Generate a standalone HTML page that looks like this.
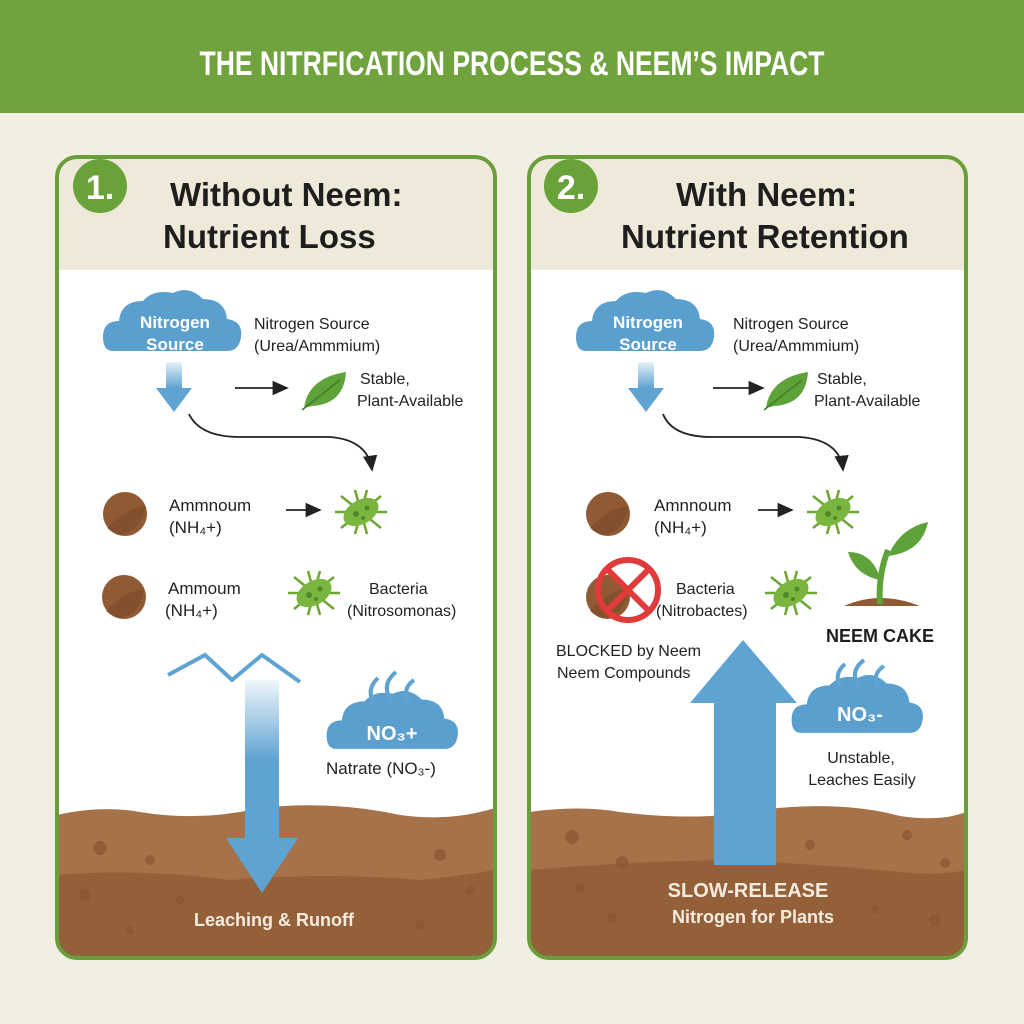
<!DOCTYPE html>
<html><head><meta charset="utf-8"><style>
body{margin:0;background:#f2eee2;}
svg{display:block}
text{font-family:"Liberation Sans",sans-serif;}
</style></head><body>
<svg width="1024" height="1024" viewBox="0 0 1024 1024" xmlns="http://www.w3.org/2000/svg">
<defs>
<linearGradient id="fade" x1="0" y1="0" x2="0" y2="1"><stop offset="0" stop-color="#5fa3d3" stop-opacity="0.1"/><stop offset="0.5" stop-color="#5fa3d3"/></linearGradient>
<linearGradient id="fade2" x1="0" y1="0" x2="0" y2="1"><stop offset="0" stop-color="#5fa3d3" stop-opacity="0.15"/><stop offset="1" stop-color="#5fa3d3"/></linearGradient>
<clipPath id="cl"><rect x="57" y="157" width="438" height="801" rx="20"/></clipPath>
<clipPath id="cr"><rect x="529" y="157" width="437" height="801" rx="20"/></clipPath>
<marker id="ah" markerWidth="10" markerHeight="10" refX="8" refY="5" orient="auto"><path d="M0,1 L9,5 L0,9 Z" fill="#222"/></marker>
<g id="cloud"><path d="M-62,22 Q-72,22 -72,8 Q-72,-8 -56,-8 Q-54,-28 -32,-28 Q-22,-40 -2,-36 Q14,-44 28,-30 Q50,-30 52,-10 Q68,-8 66,8 Q64,22 52,22 Z" fill="#5b9fcf"/></g>
<g id="coin"><circle r="22" fill="#8f5a34"/><path d="M-18,14 Q0,-6 20,-8 Q18,16 -4,21 Q-12,20 -18,14Z" fill="#7a4a29" opacity="0.6"/></g>
<g id="bug"><g stroke="#6aa832" stroke-width="2.5"><line x1="-26" y1="0" x2="26" y2="0"/><line x1="-20" y1="-16" x2="20" y2="16"/><line x1="-20" y1="16" x2="20" y2="-16"/><line x1="-6" y1="-22" x2="6" y2="22"/><line x1="6" y1="-22" x2="-6" y2="22"/></g><ellipse rx="19" ry="12" transform="rotate(-30)" fill="#7ab540"/><circle cx="-5" cy="2" r="3" fill="#4f8a27"/><circle cx="6" cy="-4" r="2.5" fill="#4f8a27"/><circle cx="2" cy="6" r="2" fill="#4f8a27"/></g>
<g id="leaf"><path d="M-22,18 Q-18,-12 20,-18 Q18,14 -14,16 Z" fill="#5ea33a"/><line x1="-24" y1="20" x2="14" y2="-10" stroke="#3f7d24" stroke-width="1.5"/></g>
</defs>
<rect width="1024" height="1024" fill="#f2eee2"/>
<rect width="1024" height="113" fill="#70a23e"/>
<text x="512" y="75" text-anchor="middle" fill="#fff" font-size="34" font-weight="bold" textLength="625" lengthAdjust="spacingAndGlyphs">THE NITRFICATION PROCESS &amp; NEEM’S IMPACT</text>

<!-- LEFT PANEL -->
<g clip-path="url(#cl)">
<rect x="57" y="157" width="438" height="801" fill="#fff"/>
<rect x="57" y="157" width="438" height="113" fill="#efe9da"/>
<path d="M57,815 Q100,805 140,812 Q200,822 260,808 Q330,800 400,815 Q450,822 495,808 L495,958 L57,958Z" fill="#a67249"/>
<path d="M57,875 Q140,868 230,880 Q330,872 420,880 Q460,876 495,870 L495,958 L57,958Z" fill="#946039"/>
<g fill="#8a5632" opacity="0.7"><circle cx="100" cy="848" r="7"/><circle cx="150" cy="860" r="5"/><circle cx="85" cy="895" r="6"/><circle cx="180" cy="900" r="4"/><circle cx="440" cy="855" r="6"/><circle cx="470" cy="890" r="5"/><circle cx="420" cy="925" r="5"/><circle cx="130" cy="930" r="4"/></g>
</g>
<rect x="57" y="157" width="438" height="801" rx="20" fill="none" stroke="#6a9e3b" stroke-width="4"/>
<circle cx="100" cy="186" r="27" fill="#6aa23a"/>
<text x="100" y="199" text-anchor="middle" fill="#fff" font-size="34" font-weight="bold">1.</text>
<text x="170" y="206" fill="#1e1e1e" font-size="33" font-weight="bold">Without Neem:</text>
<text x="163" y="248" fill="#1e1e1e" font-size="33" font-weight="bold">Nutrient Loss</text>
<use href="#cloud" transform="translate(175,329)"/>
<text x="175" y="328" text-anchor="middle" fill="#fff" font-size="17" font-weight="bold">Nitrogen</text>
<text x="175" y="350" text-anchor="middle" fill="#fff" font-size="17" font-weight="bold">Source</text>
<text x="254" y="329" fill="#222" font-size="16">Nitrogen Source</text>
<text x="254" y="351" fill="#222" font-size="16">(Urea/Ammmium)</text>
<rect x="166" y="362" width="16" height="26" fill="url(#fade2)"/>
<path d="M156,388 L192,388 L174,412Z" fill="#5fa3d3"/>
<line x1="235" y1="388" x2="287" y2="388" stroke="#222" stroke-width="1.8" marker-end="url(#ah)"/>
<use href="#leaf" transform="translate(326,390)"/>
<text x="360" y="384" fill="#222" font-size="16">Stable,</text>
<text x="357" y="406" fill="#222" font-size="16">Plant-Available</text>
<path d="M189,414 Q200,437 240,437 L330,437 Q368,440 372,470" fill="none" stroke="#222" stroke-width="1.8" marker-end="url(#ah)"/>
<use href="#coin" transform="translate(125,514)"/>
<text x="169" y="511" fill="#222" font-size="17">Ammnoum</text>
<text x="169" y="533" fill="#222" font-size="17">(NH₄+)</text>
<line x1="286" y1="510" x2="320" y2="510" stroke="#222" stroke-width="1.8" marker-end="url(#ah)"/>
<use href="#bug" transform="translate(361,512)"/>
<use href="#coin" transform="translate(124,597)"/>
<text x="168" y="594" fill="#222" font-size="17">Ammoum</text>
<text x="165" y="616" fill="#222" font-size="17">(NH₄+)</text>
<use href="#bug" transform="translate(314,593)"/>
<text x="369" y="594" fill="#222" font-size="16">Bacteria</text>
<text x="347" y="616" fill="#222" font-size="16">(Nitrosomonas)</text>
<polyline points="168,675 205,655 232,680 262,655 300,682" fill="none" stroke="#5fa3d3" stroke-width="4"/>
<rect x="245" y="680" width="34" height="160" fill="url(#fade)"/>
<path d="M226,838 L298,838 L262,893Z" fill="#5fa3d3"/>
<use href="#cloud" transform="translate(395,728) scale(0.95)"/>
<g fill="none" stroke="#5fa3d3" stroke-width="4"><path d="M375,705 Q365,690 378,678"/><path d="M392,702 Q380,685 396,672"/><path d="M410,706 Q400,690 414,680"/></g>
<text x="392" y="740" text-anchor="middle" fill="#fff" font-size="20" font-weight="bold">NO₃+</text>
<text x="326" y="774" fill="#222" font-size="17">Natrate (NO₃-)</text>
<text x="274" y="926" text-anchor="middle" fill="#f5ecdf" font-size="18" font-weight="bold">Leaching &amp; Runoff</text>

<!-- RIGHT PANEL -->
<g clip-path="url(#cr)">
<rect x="529" y="157" width="437" height="801" fill="#fff"/>
<rect x="529" y="157" width="437" height="113" fill="#efe9da"/>
<path d="M529,812 Q580,805 620,812 Q700,822 760,810 Q840,800 900,816 Q940,822 966,812 L966,958 L529,958Z" fill="#a67249"/>
<path d="M529,870 Q620,862 720,860 Q820,864 900,872 Q940,876 966,870 L966,958 L529,958Z" fill="#946039"/>
<g fill="#8a5632" opacity="0.7"><circle cx="572" cy="837" r="7"/><circle cx="622" cy="862" r="6"/><circle cx="580" cy="888" r="5"/><circle cx="612" cy="918" r="5"/><circle cx="810" cy="845" r="5"/><circle cx="907" cy="835" r="5"/><circle cx="945" cy="863" r="5"/><circle cx="935" cy="920" r="6"/><circle cx="875" cy="910" r="4"/></g>
</g>
<rect x="529" y="157" width="437" height="801" rx="20" fill="none" stroke="#6a9e3b" stroke-width="4"/>
<circle cx="571" cy="186" r="27" fill="#6aa23a"/>
<text x="571" y="199" text-anchor="middle" fill="#fff" font-size="34" font-weight="bold">2.</text>
<text x="676" y="206" fill="#1e1e1e" font-size="33" font-weight="bold">With Neem:</text>
<text x="621" y="248" fill="#1e1e1e" font-size="33" font-weight="bold">Nutrient Retention</text>
<use href="#cloud" transform="translate(648,329)"/>
<text x="648" y="328" text-anchor="middle" fill="#fff" font-size="17" font-weight="bold">Nitrogen</text>
<text x="648" y="350" text-anchor="middle" fill="#fff" font-size="17" font-weight="bold">Source</text>
<text x="733" y="329" fill="#222" font-size="16">Nitrogen Source</text>
<text x="733" y="351" fill="#222" font-size="16">(Urea/Ammmium)</text>
<rect x="638" y="362" width="16" height="26" fill="url(#fade2)"/>
<path d="M628,388 L664,388 L646,412Z" fill="#5fa3d3"/>
<line x1="713" y1="388" x2="763" y2="388" stroke="#222" stroke-width="1.8" marker-end="url(#ah)"/>
<use href="#leaf" transform="translate(788,390)"/>
<text x="817" y="384" fill="#222" font-size="16">Stable,</text>
<text x="814" y="406" fill="#222" font-size="16">Plant-Available</text>
<path d="M663,414 Q672,437 712,437 L800,437 Q840,440 843,470" fill="none" stroke="#222" stroke-width="1.8" marker-end="url(#ah)"/>
<use href="#coin" transform="translate(608,514)"/>
<text x="654" y="511" fill="#222" font-size="17">Amnnoum</text>
<text x="654" y="533" fill="#222" font-size="17">(NH₄+)</text>
<line x1="758" y1="510" x2="792" y2="510" stroke="#222" stroke-width="1.8" marker-end="url(#ah)"/>
<use href="#bug" transform="translate(833,512)"/>
<use href="#coin" transform="translate(608,597)"/>
<circle cx="628" cy="590" r="30" fill="none" stroke="#e03a3a" stroke-width="6"/>
<line x1="607" y1="569" x2="649" y2="611" stroke="#e03a3a" stroke-width="6"/>
<line x1="649" y1="569" x2="607" y2="611" stroke="#e03a3a" stroke-width="6"/>
<text x="676" y="594" fill="#222" font-size="16">Bacteria</text>
<text x="656" y="616" fill="#222" font-size="16">(Nitrobactes)</text>
<use href="#bug" transform="translate(791,593)"/>
<path d="M844,606 Q880,590 920,606Z" fill="#8f5a34"/>
<path d="M880,604 Q878,575 888,550" stroke="#5ea33a" stroke-width="6" fill="none"/>
<path d="M880,580 Q855,575 848,552 Q872,552 880,578Z" fill="#5ea33a"/>
<path d="M888,556 Q900,528 928,522 Q922,552 888,556Z" fill="#5ea33a"/>
<text x="880" y="642" text-anchor="middle" fill="#1e1e1e" font-size="18" font-weight="bold">NEEM CAKE</text>
<text x="556" y="656" fill="#222" font-size="16">BLOCKED by Neem</text>
<text x="557" y="678" fill="#222" font-size="16">Neem Compounds</text>
<path d="M690,703 L743,640 L797,703 L776,703 L776,865 L714,865 L714,703Z" fill="#5fa3d3"/>
<use href="#cloud" transform="translate(860,712) scale(0.95)"/>
<g fill="none" stroke="#5fa3d3" stroke-width="4"><path d="M842,690 Q832,675 845,664"/><path d="M860,688 Q848,672 864,660"/><path d="M880,690 Q870,675 884,666"/></g>
<text x="860" y="721" text-anchor="middle" fill="#fff" font-size="20" font-weight="bold">NO₃-</text>
<text x="861" y="763" text-anchor="middle" fill="#222" font-size="16">Unstable,</text>
<text x="862" y="785" text-anchor="middle" fill="#222" font-size="16">Leaches Easily</text>
<text x="748" y="897" text-anchor="middle" fill="#f5ecdf" font-size="20" font-weight="bold">SLOW-RELEASE</text>
<text x="753" y="923" text-anchor="middle" fill="#f5ecdf" font-size="18" font-weight="bold">Nitrogen for Plants</text>
</svg>
</body></html>
